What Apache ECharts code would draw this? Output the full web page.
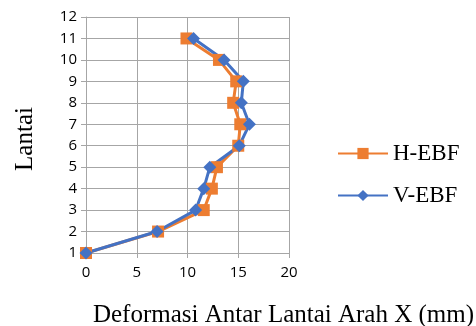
<!DOCTYPE html>
<html><head><meta charset="utf-8">
<script src="https://cdn.jsdelivr.net/npm/echarts@6/dist/echarts.min.js"></script>
<style>html,body{margin:0;padding:0;background:#fff}#c{width:476px;height:326px}</style>
</head><body><div id="c"></div>
<script>
const floors = [1,2,3,4,5,6,7,8,9,10,11];
const hEBF = [0, 7.1, 11.6, 12.4, 12.9, 15.0, 15.2, 14.5, 14.8, 13.1, 9.9];
const vEBF = [0, 7.0, 10.8, 11.6, 12.2, 15.1, 16.1, 15.3, 15.5, 13.6, 10.6];
const seriesNames = ['H-EBF', 'V-EBF'];
const xTitle = 'Deformasi Antar Lantai Arah X (mm)';
const yTitle = 'Lantai';

const chart = echarts.init(document.getElementById('c'), null, {renderer:'canvas'});
const toPts = arr => arr.map((v,i)=>[v, floors[i]]);
chart.setOption({
  animation:false,
  grid:{left:86, right:187, top:17, bottom:73, outerBoundsMode:'none', containLabel:false},
  legend:{
    orient:'vertical', left:337, top:142, padding:0, itemWidth:50, itemHeight:14, itemGap:19,
    textStyle:{fontFamily:'Liberation Serif', fontSize:23, color:'#000'},
    data:seriesNames
  },
  xAxis:{
    type:'value', min:0, max:20, interval:5,
    name:xTitle, nameLocation:'middle', nameGap:50,
    nameTextStyle:{fontFamily:'Liberation Serif', fontSize:25, color:'#000', padding:[0,0,0,192]},
    axisLine:{show:true, onZero:false, lineStyle:{color:'#a6a6a6'}},
    axisTick:{show:true, length:5, lineStyle:{color:'#a6a6a6'}},
    axisLabel:{fontFamily:'Open Sans', fontSize:15, color:'#000', margin:12},
    splitLine:{lineStyle:{color:'#a6a6a6'}}
  },
  yAxis:{
    type:'value', min:1, max:12, interval:1,
    name:yTitle, nameLocation:'middle', nameGap:48, nameRotate:90,
    nameTextStyle:{fontFamily:'Liberation Serif', fontSize:25, color:'#000', padding:[0,8,0,0]},
    axisLine:{show:true, onZero:false, lineStyle:{color:'#a6a6a6'}},
    axisTick:{show:true, length:5, lineStyle:{color:'#a6a6a6'}},
    axisLabel:{fontFamily:'Open Sans', fontSize:15, color:'#000', margin:9},
    splitLine:{lineStyle:{color:'#a6a6a6'}}
  },
  series:[
    {name:seriesNames[0], type:'line', data:toPts(hEBF), symbol:'rect', symbolSize:12,
     itemStyle:{color:'#ED7D31'}, lineStyle:{color:'#ED7D31', width:3}},
    {name:seriesNames[1], type:'line', data:toPts(vEBF), symbol:'diamond', symbolSize:13,
     itemStyle:{color:'#4472C4'}, lineStyle:{color:'#4472C4', width:3}}
  ]
});
</script></body></html>
